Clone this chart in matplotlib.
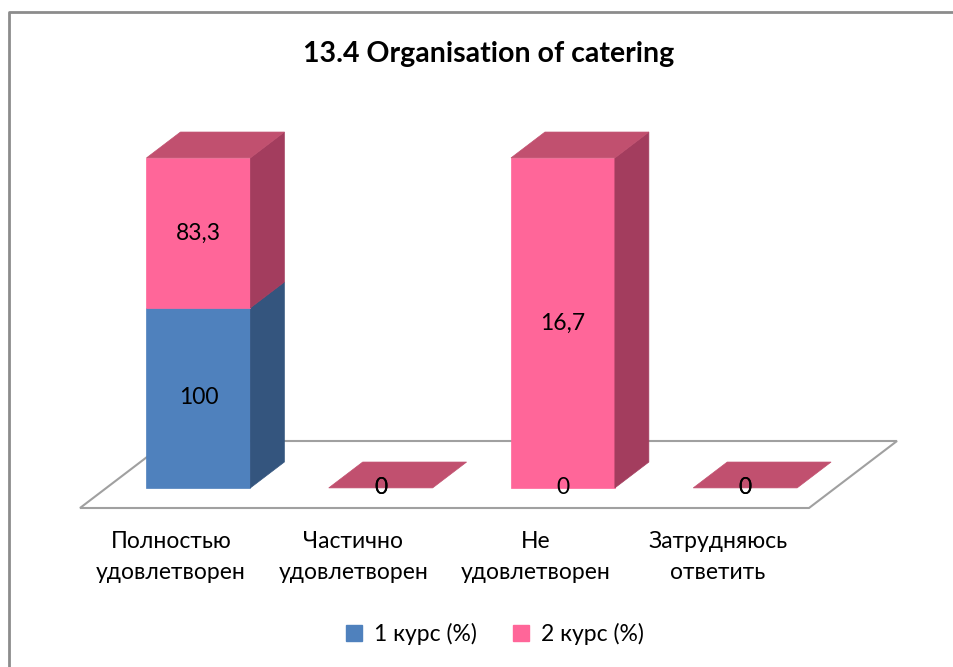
import matplotlib.pyplot as plt
from matplotlib.patches import Polygon, Patch

plt.rcParams['font.family'] = ['Lato', 'DejaVu Sans']

title = '13.4 Organisation of catering'
categories = ['Полностью\nудовлетворен', 'Частично\nудовлетворен',
              'Не\nудовлетворен', 'Затрудняюсь\nответить']
series_names = ['1 курс (%)', '2 курс (%)']
kurs1 = [100, 0, 0, 0]
kurs2 = [83.3, 0, 16.7, 0]

# face colours: front, side, top
colors = [('#4F81BD', '#34557E', '#3C6496'),
          ('#FF6699', '#A33D5E', '#C1506F')]

W, H = 954, 667
fig = plt.figure(figsize=(W / 100, H / 100), dpi=100)
ax = fig.add_axes([0, 0, 1, 1])
ax.set_xlim(0, W)
ax.set_ylim(H, 0)
ax.axis('off')

# simple oblique projection (pixel space)
X0, Y0 = 80, 508
CAT_W = 182.25
DX, DY = 88, 67
PX_PER_PCT = 3.30


def proj(x, v, z):
    return (X0 + x * CAT_W + z * DX, Y0 - z * DY - v * PX_PER_PCT)


def face(pts, color, **kw):
    ax.add_patch(Polygon([proj(*p) for p in pts], closed=True,
                         facecolor=color, edgecolor=color, lw=0.5, **kw))


# outer chart border (only top/left visible)
ax.plot([9.5, 9.5, W], [H, 11.5, 11.5], color='#8C8C8C', lw=2)

# floor
n = len(categories)
ax.add_patch(Polygon([proj(0, 0, 0), proj(n, 0, 0), proj(n, 0, 1), proj(0, 0, 1)],
                     closed=True, facecolor='white', edgecolor='#A0A0A0', lw=1.5))

gx0, gx1 = 0.22, 0.79
z0, z1 = 0.30, 0.686

labels = []
series = [kurs1, kurs2]
for i in range(n):
    total = sum(s[i] for s in series)
    base = 0.0
    for k, s in enumerate(series):
        h = s[i] / total * 100 if total else 0
        x0, x1 = i + gx0, i + gx1
        v0, v1 = base, base + h
        fc, sc, tc = colors[k]
        if h > 0:
            face([(x0, v0, z0), (x1, v0, z0), (x1, v1, z0), (x0, v1, z0)], fc)
            face([(x1, v0, z0), (x1, v0, z1), (x1, v1, z1), (x1, v1, z0)], sc)
        if k == len(series) - 1:
            face([(x0, v1, z0), (x1, v1, z0), (x1, v1, z1), (x0, v1, z1)], tc)
        labels.append((proj((x0 + x1) / 2, (v0 + v1) / 2, z0), s[i]))
        base = v1

for (px, py), val in labels:
    ax.text(px, py, f'{val:g}'.replace('.', ','), ha='center', va='center',
            fontsize=16.5, color='black')

for i, cat in enumerate(categories):
    px, py = proj(i + 0.5, 0, 0)
    ax.text(px, 531, cat, ha='center', va='top', fontsize=16.5, linespacing=1.6)

ax.text(489, 54, title, ha='center', va='center', fontsize=20.5, fontweight='bold')

handles = [Patch(facecolor=c[0], edgecolor=c[0]) for c in colors]
fig.legend(handles, series_names, loc='center', bbox_to_anchor=(495 / W, 1 - 634 / H),
           ncol=2, frameon=False, fontsize=16.5, handlelength=0.7, handleheight=0.7,
           handletextpad=0.5, columnspacing=1.6)

fig.savefig('out.png', dpi=100)
